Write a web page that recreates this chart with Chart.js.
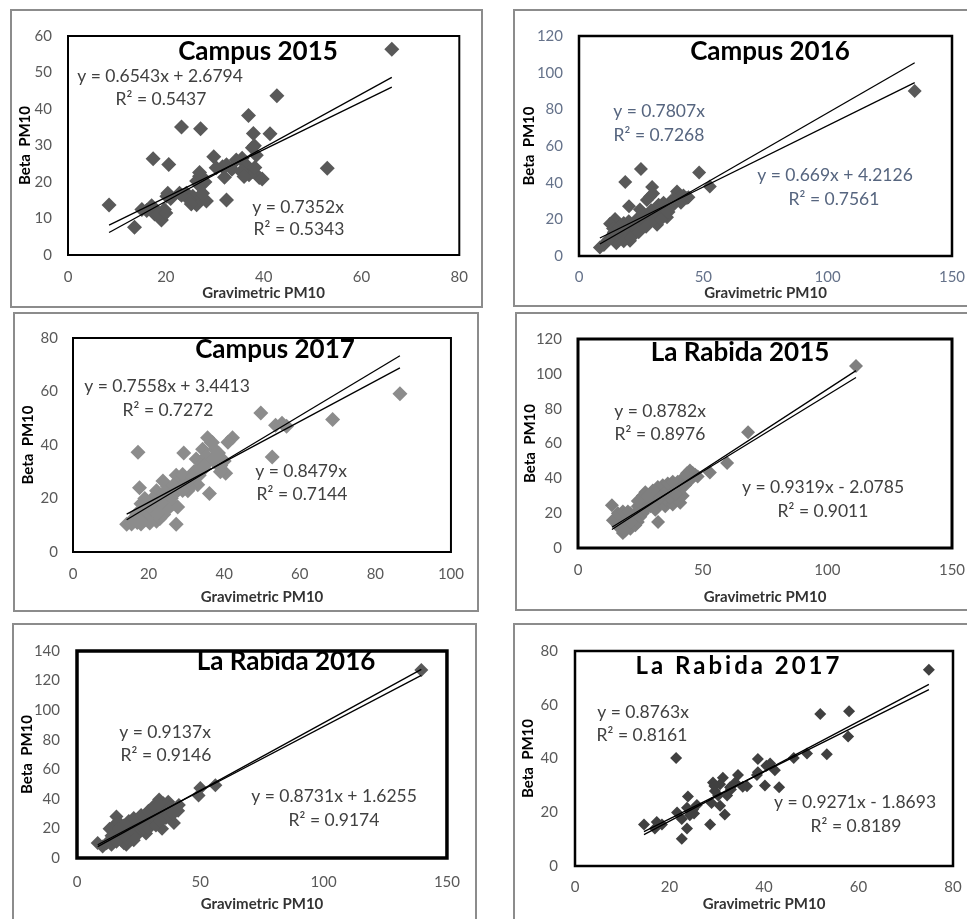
<!DOCTYPE html>
<html>
<head>
<meta charset="utf-8">
<title>Beta vs Gravimetric PM10</title>
<script src="https://cdn.jsdelivr.net/npm/chart.js@4.4.0/dist/chart.umd.min.js"></script>
<style>
  body { margin: 0; background: #fff; width: 967px; height: 919px; overflow: hidden; position: relative; }
  .panel { position: absolute; border: 2px solid #8c8c8c; box-sizing: border-box; background: #fff; }
  canvas { display: block; }
</style>
</head>
<body>
<script>
// ---- data ----
const titles = ['Campus 2015', 'Campus 2016', 'Campus 2017', 'La Rabida 2015', 'La Rabida 2016', 'La Rabida 2017'];

const campus2015X = [66.2,42.7,36.9,23.2,27.1,37.9,41.3,38.1,17.4,20.6,29.8,53,8.4,13.6,32.4,31.6,34.4,35.6,36.4,37.7,39.1,39.7,37,35.4,30.3,32,38.5,37.7,32.4,33.5,36,38.2,26.9,26.3,26.9,27.5,26.9,28,24.2,25.5,26.9,28.3,26.3,24.8,27.5,22.8,25.2,23.2,20.2,20.4,21,15.1,17.1,18.1,19.1,19.1,17.7,19.7,16.1,18.5,20];
const campus2015Y = [56.4,43.6,38.2,35.1,34.6,33.3,33.2,29.9,26.4,24.8,26.9,23.8,13.7,7.6,15.1,24.2,26,26.5,24.7,22.9,21.2,20.8,22,22.9,23.9,21.3,27.3,29.4,24.7,23.5,21.5,24,21.6,20.3,19,21.3,22.6,20,16.9,16.1,15.1,14.8,13.8,15.1,16.9,16.9,14,16.4,16.1,16.9,15.5,12.5,13.5,12.2,10.4,9.6,11.2,12.5,12.2,11,11.5];

const campus2016X = [135,24.9,48.3,18.6,52.6,29.4,28.6,29.8,20.1,39.8,43.4,8.4,14.5,12.5,24.5,32.6,39.4,11.3,13.7,16.5,19.3,21.7,24.5,27.3,29.8,33.8,36.6,40.6,20.5,13.7,23.3,31.4,35.4,27.3,15,17,19,22,23,26,28,30,31,34,35,37,38,41,44,10,12,14,16,18,20,22,25,26,32,33,36,38,42,18,21,24,27,29,34];
const campus2016Y = [90,47.5,45.5,40.3,37.9,37.6,32.4,34.1,27.2,34.1,31.6,4.7,20.2,17.6,25.3,25.3,35.2,8.3,11.9,9.8,13.4,15,17.1,20.2,22.2,25.3,27.9,32.6,8.3,15,20.2,17.1,21.2,30.5,7,12,11,12,14.5,19,18,19.5,24,22.5,27,30,28,29,32,6,9,13,16,18,19,17,21,23,28,20,24,31,33,8,10,13,16,25,29];

const campus2017X = [86.5,49.7,68.7,52.7,53.6,55.3,56.5,42.2,35.6,36.9,17.2,29.3,17.6,27.3,36.1,40.4,39.1,33.4,33,30.4,23.8,22.1,14.2,34.3,32.6,34.7,37.8,37.4,27.3,28.2,25.5,26.4,27.7,19.4,18.5,21.1,22.1,20.3,15.8,17.6,23.7,24.7,22.9,16.8,30,30.8,34.7,35.3,36.6,15.5,17,19,20,21,23,24,25,26,27,28,29,31,32,33,38,39,40,24,22,21,19,18,20.5,23.5,25,26.5,29,31.5,35,37,38.5,41,16,18,22.5];
const campus2017Y = [59.2,52,49.5,35.5,47.4,48.1,47,42.7,42.7,40.9,37.3,37,24,10.4,21.9,29.4,32.3,28.7,25.1,22.9,26.5,22.9,10.4,38.4,34.8,33.7,35.9,38.4,28.7,26.5,21.5,17.9,16.8,17.9,15.7,13.2,11.5,10.8,12.2,13.2,15.8,19.4,16.9,14.3,26.5,24,31.2,35.9,40.9,10.5,11,12,14.5,16,12.5,14,16,20,22,24,23,27,30,31,33,30,34,22,19,20,20,18,17.5,18.5,24.5,25,29,28,32.5,34.5,37,41,11.5,10.5,14.5];

const rabida2015X = [111.5,68.2,59.8,52.9,44.9,43.7,13.6,32.1,18,46,47,42,44,40,41,38,39,36,37,35,33,32,34,31,30,29,28,27,26,28,25,24,23,22,21,20,19,18,17,16,15,14,16,18,20,19,21,22,23,24,25,26,27,29,30,31,33,35,36,38,40,41,42,37,39,43,45,48,44,34,30,27,26,25,24,28,31,33,35,36,38,20,17,19,21];
const rabida2015Y = [104.5,66.4,48.8,43.4,44.5,42.9,24.6,15,8.6,43,42,40,38,38,36,35,33,34,31,30,33,35,28,30,28,31,27,29,25,24,22,24,20,18,20,16,19,17,14,13,17,16,20,21,21,12,11,14,13,15,18,20,22,24,25,22,26,24,27,25,28,26,30,29,31,36,39,41,41,36,33,32,30,28,27,30,27,29,32,37,38,14,11,10,15];

const rabida2016X = [139.6,56.1,50,49.3,41.3,39.3,34.5,16,8.4,10.4,20,28,33.3,13.2,35,36,37,38,40,34,33,32,31,30,29,28,27,26,25,24,23,22,21,20,19,18,17,16,15,14,18,19,22,24,25,26,27,30,31,32,35,37,36,39,41,15,17,21,23,26,29,31,33,12,14,16,17,19,22,20,23,29,32,34];
const rabida2016Y = [127.2,49.2,47.3,42.2,35.8,23.7,19.8,28.1,10.2,7.7,8.9,16.6,39.6,19.8,37,34,38,35,33,32,30,34,28,30,26,28,24,27,22,25,20,23,18,21,16,19,14,17,12,15,12,10,13,15,17,19,20,22,24,26,29,31,27,30,32,22,24,25,27,29,32,35,36,10,9,11,20,22,16,13,12,20,22,25];

const rabida2017X = [74.9,51.9,58,57.8,53.3,49.1,46.3,21.4,38.7,41.3,42.3,38.7,38.5,40.2,43.2,36.4,34.5,33.9,32.8,29.2,30.7,29.6,30.3,32.2,28.9,30.7,31.7,28.6,23.9,21.6,22.6,23.7,25,25.8,24.3,23.7,22.6,14.6,17.3,16.9,18.4,31.3,35.5,29.5,24.5,25.2,33,40.5];
const rabida2017Y = [73,56.6,57.6,48.2,41.6,41.9,40.2,40.2,39.8,38.1,35.6,34.9,33.9,30,29.3,29.7,33.9,31.1,29.3,31.1,30.4,27.9,26.2,26.2,23.4,22.4,19.2,15.4,25.9,19.9,17.5,21.7,21,22.7,18.9,14,10.1,15.4,16.4,14,15.4,32.8,29.5,29.8,20,19.5,28.5,37.3];

const seriesX = [campus2015X, campus2016X, campus2017X, rabida2015X, rabida2016X, rabida2017X];
const seriesY = [campus2015Y, campus2016Y, campus2017Y, rabida2015Y, rabida2016Y, rabida2017Y];

// trend lines as printed on the figure
const slopeOrigin = [0.7352, 0.7807, 0.8479, 0.8782, 0.9137, 0.8763];
const r2Origin    = ['0.5343', '0.7268', '0.7144', '0.8976', '0.9146', '0.8161'];
const slopeFit    = [0.6543, 0.669, 0.7558, 0.9319, 0.8731, 0.9271];
const interceptFit = [2.6794, 4.2126, 3.4413, -2.0785, 1.6255, -1.8693];
const r2Fit       = ['0.5437', '0.7561', '0.7272', '0.9011', '0.9174', '0.8189'];

// axis ranges / ticks
const xMax  = [80, 150, 100, 150, 150, 80];
const xStep = [20, 50, 20, 50, 50, 20];
const yMax  = [60, 120, 80, 120, 140, 80];
const yStep = [10, 20, 20, 20, 20, 20];

// ---- layout (page pixels) ----
const FONT = 'Lato, "Open Sans", sans-serif';
const panels = [
  { outer: [10, 9, 473, 299], plot: [68, 24, 461, 255], yTickRight: 52, xTickY: 277, yTitleX: 25, xTitleY: 293,
    marker: '#595959', r: 7.5, frame: 2, tickColor: '#595959', textColor: '#404040', titleSize: 26,
    title: [258, 52], fitEq: [160, 76], fitR2: [161, 99], origEq: [298, 207], origR2: [299, 229] },
  { outer: [513, 9, 470, 298], plot: [579, 24, 952, 256], yTickRight: 563, xTickY: 277, yTitleX: 529, xTitleY: 293,
    marker: '#595959', r: 7, frame: 2.5, tickColor: '#65728a', textColor: '#56657f', titleSize: 26,
    title: [770, 52], fitEq: [835, 175], fitR2: [834, 199], origEq: [659, 111], origR2: [659, 135] },
  { outer: [13, 312, 466, 300], plot: [73, 329, 453, 552], yTickRight: 58, xTickY: 574, yTitleX: 28, xTitleY: 597,
    marker: '#8c8c8c', r: 7.5, frame: 2, tickColor: '#595959', textColor: '#404040', titleSize: 26,
    title: [275, 350], fitEq: [167, 386], fitR2: [168, 410], origEq: [301, 471], origR2: [302, 494] },
  { outer: [515, 312, 470, 299], plot: [578, 324, 952, 548], yTickRight: 562, xTickY: 570, yTitleX: 530, xTitleY: 597,
    marker: '#7f7f7f', r: 7, frame: 3, tickColor: '#595959', textColor: '#404040', titleSize: 26,
    title: [740, 353], fitEq: [823, 487], fitR2: [823, 511], origEq: [660, 411], origR2: [660, 434] },
  { outer: [12, 623, 465, 310], plot: [77, 639, 451, 858], yTickRight: 60, xTickY: 882, yTitleX: 27, xTitleY: 904,
    marker: '#595959', r: 7, frame: 3.5, tickColor: '#595959', textColor: '#404040', titleSize: 26,
    title: [286, 662], fitEq: [334, 796], fitR2: [334, 820], origEq: [165, 732], origR2: [166, 755] },
  { outer: [513, 623, 470, 310], plot: [575, 637, 953, 866], yTickRight: 558, xTickY: 887, yTitleX: 528, xTitleY: 904,
    marker: '#404040', r: 6, frame: 2.5, tickColor: '#595959', textColor: '#404040', titleSize: 24, spacing: '3px',
    title: [739, 666], fitEq: [855, 802], fitR2: [856, 826], origEq: [643, 712], origR2: [642, 735] },
];

const fmt = v => String(v);

function buildPanel(i) {
  const L = panels[i];
  const [ol, ot, ow, oh] = L.outer;
  const cx = ol + 2, cy = ot + 2, cw = ow - 4, ch = oh - 4;
  const [pl, pt, pr, pb] = L.plot;

  const div = document.createElement('div');
  div.className = 'panel';
  div.style.cssText = `left:${ol}px;top:${ot}px;width:${ow}px;height:${oh}px`;
  const canvas = document.createElement('canvas');
  canvas.width = cw; canvas.height = ch;
  canvas.style.width = cw + 'px'; canvas.style.height = ch + 'px';
  div.appendChild(canvas);
  document.body.appendChild(div);

  const xs = seriesX[i], ys = seriesY[i];
  const lo = Math.min(...xs), hi = Math.max(...xs);
  const pts = xs.map((x, k) => ({ x, y: ys[k] }));
  const lineOrigin = [lo, hi].map(x => ({ x, y: slopeOrigin[i] * x }));
  const lineFit = [lo, hi].map(x => ({ x, y: slopeFit[i] * x + interceptFit[i] }));

  const b = interceptFit[i];
  const eqFit = `y = ${fmt(slopeFit[i])}x ${b < 0 ? '-' : '+'} ${fmt(Math.abs(b))}`;
  const eqOrig = `y = ${fmt(slopeOrigin[i])}x`;

  const overlay = {
    id: 'overlay',
    afterDatasetsDraw(chart) {
      const { ctx, chartArea: a } = chart;
      ctx.save();
      ctx.strokeStyle = '#000';
      ctx.lineWidth = L.frame;
      ctx.strokeRect(a.left, a.top, a.right - a.left, a.bottom - a.top);

      ctx.textAlign = 'center';
      ctx.textBaseline = 'middle';
      ctx.fillStyle = '#000';
      ctx.font = `bold ${L.titleSize}px ${FONT}`;
      if (L.spacing) ctx.letterSpacing = L.spacing;
      ctx.fillText(titles[i], L.title[0] - cx, L.title[1] - cy);
      ctx.letterSpacing = '0px';

      ctx.fillStyle = L.textColor;
      ctx.font = `17.5px ${FONT}`;
      ctx.fillText(eqFit, L.fitEq[0] - cx, L.fitEq[1] - cy);
      ctx.fillText('R² = ' + r2Fit[i], L.fitR2[0] - cx, L.fitR2[1] - cy);
      ctx.fillText(eqOrig, L.origEq[0] - cx, L.origEq[1] - cy);
      ctx.fillText('R² = ' + r2Origin[i], L.origR2[0] - cx, L.origR2[1] - cy);
      ctx.restore();
    }
  };

  const tickFont = { family: FONT, size: 15, lineHeight: 1.2 };
  const titleFont = { family: FONT, size: 15, weight: 'bold', lineHeight: 1.2 };

  new Chart(canvas, {
    type: 'scatter',
    data: {
      datasets: [
        { data: lineFit, showLine: true, borderColor: '#000', borderWidth: 1.3, pointRadius: 0, fill: false },
        { data: lineOrigin, showLine: true, borderColor: '#000', borderWidth: 1.3, pointRadius: 0, fill: false },
        { data: pts, pointStyle: 'rectRot', pointRadius: L.r, pointHoverRadius: L.r,
          backgroundColor: L.marker, borderColor: L.marker, borderWidth: 0 }
      ]
    },
    options: {
      responsive: false,
      devicePixelRatio: 1,
      animation: false,
      events: [],
      layout: { padding: { left: 0, top: pt - cy, right: cx + cw - pr, bottom: 0 } },
      plugins: { legend: { display: false }, tooltip: { enabled: false } },
      scales: {
        x: {
          type: 'linear', min: 0, max: xMax[i],
          grid: { display: false, drawTicks: false },
          border: { display: false },
          ticks: { stepSize: xStep[i], maxRotation: 0, color: L.tickColor, font: tickFont, padding: L.xTickY - pb - 9 },
          title: { display: true, text: 'Gravimetric PM10', color: '#333', font: titleFont,
                   padding: { top: 0, bottom: cy + ch - L.xTitleY - 9 } },
          afterFit(s) { s.height = cy + ch - pb; }
        },
        y: {
          type: 'linear', min: 0, max: yMax[i],
          grid: { display: false, drawTicks: false },
          border: { display: false },
          ticks: { stepSize: yStep[i], color: L.tickColor, font: tickFont, padding: pl - L.yTickRight },
          title: { display: true, text: 'Beta  PM10', color: '#000', font: titleFont,
                   padding: { top: L.yTitleX - cx - 9, bottom: 0 } },
          afterFit(s) { s.width = pl - cx; }
        }
      }
    },
    plugins: [overlay]
  });
}

titles.forEach((_, i) => buildPanel(i));
</script>
</body>
</html>
